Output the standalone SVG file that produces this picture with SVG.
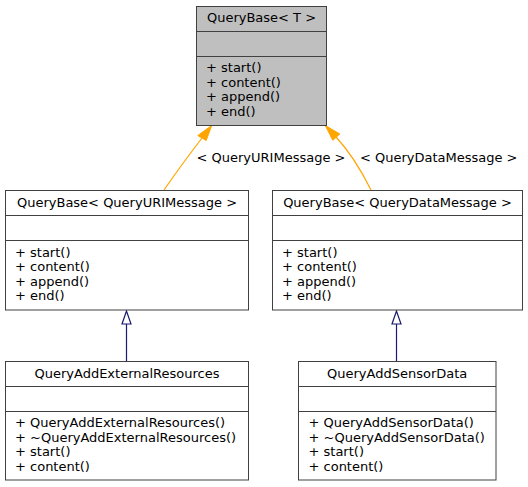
<svg xmlns="http://www.w3.org/2000/svg" width="528" height="487" viewBox="0 0 528 487">
<style>
  .box { fill: #ffffff; stroke: #404040; stroke-width: 1; }
  .cur { fill: #bfbfbf; }
  .div { stroke: #404040; stroke-width: 1; fill: none; }
  text { font-family: "DejaVu Sans", sans-serif; font-size: 13px; fill: #000000; }
  .ttl { text-anchor: middle; }
  .tpl { stroke: #ffa500; stroke-width: 1.2; fill: none; }
  .tplh { fill: #ffa500; stroke: #ffa500; stroke-width: 1; }
  .inh { stroke: #191970; stroke-width: 1.2; fill: none; }
  .inhh { fill: #ffffff; stroke: #191970; stroke-width: 1.2; }
</style>
<rect width="528" height="487" fill="#ffffff"/>
<g id="connectors">
  <path class="tpl" d="M164,190 C175,174 189,155 202,138"/>
  <polygon class="tplh" points="211.7,125.5 197.8,135.5 206.2,140.5"/>
  <text x="271" y="161.5" class="ttl">&lt; QueryURIMessage &gt;</text>
  <path class="tpl" d="M371,190 C362,172 350,152 336,137"/>
  <polygon class="tplh" points="325.3,125.5 332.8,140.3 339.8,134"/>
  <text x="438.7" y="161.5" class="ttl">&lt; QueryDataMessage &gt;</text>
  <line class="inh" x1="126.5" y1="324" x2="126.5" y2="361"/>
  <polygon class="inhh" points="126.5,311 122,324 131,324"/>
  <line class="inh" x1="396.5" y1="324" x2="396.5" y2="361"/>
  <polygon class="inhh" points="396.5,311 392,324 401,324"/>
</g>
<g id="node-querybase-t">
  <rect class="box cur" x="196.5" y="6.5" width="130" height="119"/>
  <line class="div" x1="196.5" y1="31.5" x2="326.5" y2="31.5"/>
  <line class="div" x1="196.5" y1="56.5" x2="326.5" y2="56.5"/>
  <text x="261.5" y="22" class="ttl">QueryBase&lt; T &gt;</text>
  <text x="206" y="72">+ start()</text>
  <text x="206" y="86.5">+ content()</text>
  <text x="206" y="101">+ append()</text>
  <text x="206" y="115.5">+ end()</text>
</g>
<g id="node-querybase-uri">
  <rect class="box" x="5.5" y="190.5" width="243" height="119.5"/>
  <line class="div" x1="5.5" y1="215.5" x2="248.5" y2="215.5"/>
  <line class="div" x1="5.5" y1="240.5" x2="248.5" y2="240.5"/>
  <text x="127" y="206.5" class="ttl">QueryBase&lt; QueryURIMessage &gt;</text>
  <text x="15" y="256.5">+ start()</text>
  <text x="15" y="271">+ content()</text>
  <text x="15" y="285.5">+ append()</text>
  <text x="15" y="300">+ end()</text>
</g>
<g id="node-querybase-data">
  <rect class="box" x="272.5" y="190.5" width="250" height="119.5"/>
  <line class="div" x1="272.5" y1="215.5" x2="522.5" y2="215.5"/>
  <line class="div" x1="272.5" y1="240.5" x2="522.5" y2="240.5"/>
  <text x="397.5" y="206.5" class="ttl">QueryBase&lt; QueryDataMessage &gt;</text>
  <text x="282" y="256.5">+ start()</text>
  <text x="282" y="271">+ content()</text>
  <text x="282" y="285.5">+ append()</text>
  <text x="282" y="300">+ end()</text>
</g>
<g id="node-queryaddexternalresources">
  <rect class="box" x="5.5" y="361.5" width="243" height="118.5"/>
  <line class="div" x1="5.5" y1="386.5" x2="248.5" y2="386.5"/>
  <line class="div" x1="5.5" y1="411.5" x2="248.5" y2="411.5"/>
  <text x="127" y="377.5" class="ttl">QueryAddExternalResources</text>
  <text x="15" y="427">+ QueryAddExternalResources()</text>
  <text x="15" y="441.5">+ ~QueryAddExternalResources()</text>
  <text x="15" y="456">+ start()</text>
  <text x="15" y="470.5">+ content()</text>
</g>
<g id="node-queryaddsensordata">
  <rect class="box" x="298.5" y="361.5" width="197.5" height="118.5"/>
  <line class="div" x1="298.5" y1="386.5" x2="496" y2="386.5"/>
  <line class="div" x1="298.5" y1="411.5" x2="496" y2="411.5"/>
  <text x="397.2" y="377.5" class="ttl">QueryAddSensorData</text>
  <text x="308.5" y="427">+ QueryAddSensorData()</text>
  <text x="308.5" y="441.5">+ ~QueryAddSensorData()</text>
  <text x="308.5" y="456">+ start()</text>
  <text x="308.5" y="470.5">+ content()</text>
</g>
</svg>
